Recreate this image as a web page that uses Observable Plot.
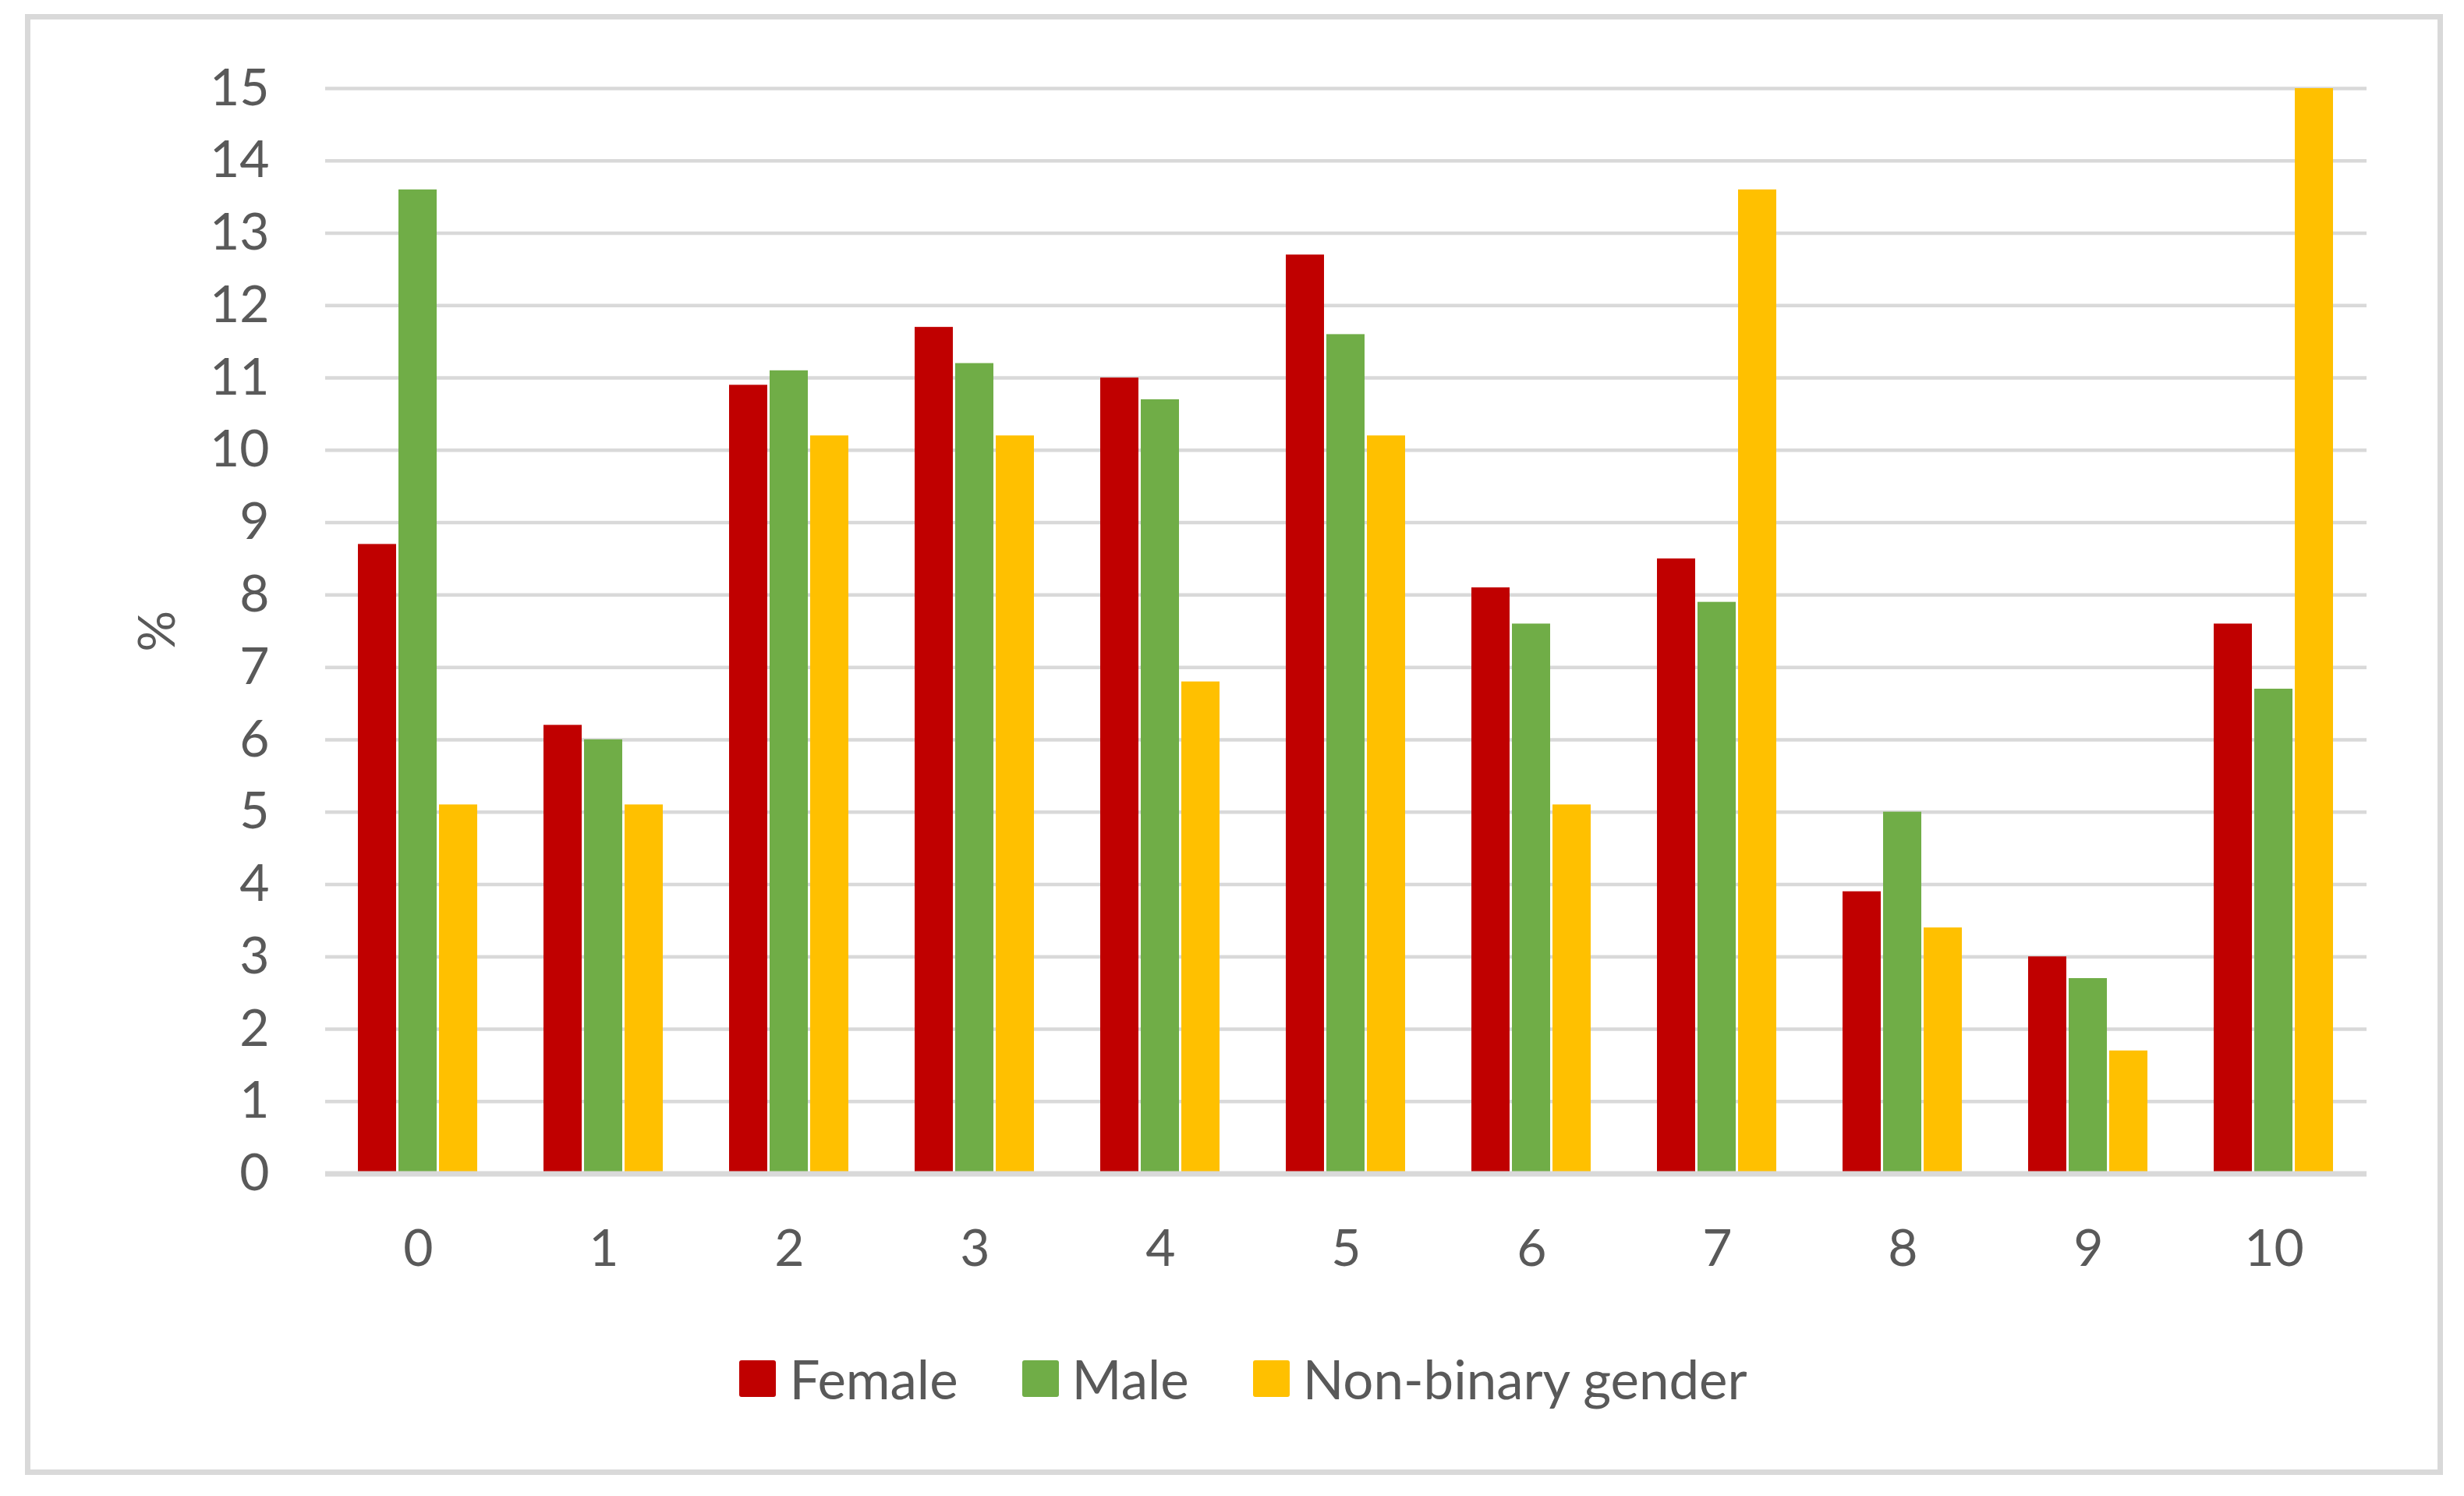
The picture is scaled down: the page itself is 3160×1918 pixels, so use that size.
<!DOCTYPE html>
<html>
<head>
<meta charset="utf-8">
<script src="https://cdn.jsdelivr.net/npm/d3@7"></script>
<script src="https://cdn.jsdelivr.net/npm/@observablehq/plot@0.6"></script>
<style>
  html, body { margin: 0; padding: 0; background: #fff; }
  body { width: 3160px; height: 1918px; position: relative; overflow: hidden; font-family: Lato, "Open Sans", sans-serif; }
  #frame { position: absolute; left: 32px; top: 18px; width: 3101px; height: 1873px; box-sizing: border-box; border: 7px solid #d9d9d9; }
  #chart { position: absolute; left: 0; top: 0; }
  #legend { position: absolute; left: 44px; width: 3101px; top: 1744px; display: flex; justify-content: center; align-items: center; color: #595959; font-size: 69px; line-height: 47px; }
  .item { display: flex; align-items: center; margin: 0 41px; }
  .sw { width: 47px; height: 47px; border-radius: 3px; margin-right: 17px; }
</style>
</head>
<body>
<div id="frame"></div>
<div id="chart"></div>
<div id="legend"></div>
<script>
const categories = ["0", "1", "2", "3", "4", "5", "6", "7", "8", "9", "10"];
const female    = [8.7, 6.2, 10.9, 11.7, 11.0, 12.7, 8.1, 8.5, 3.9, 3.0, 7.6];
const male      = [13.6, 6.0, 11.1, 11.2, 10.7, 11.6, 7.6, 7.9, 5.0, 2.7, 6.7];
const nonbinary = [5.1, 5.1, 10.2, 10.2, 6.8, 10.2, 5.1, 13.6, 3.4, 1.7, 15.0];
const genders = ["Female", "Male", "Non-binary gender"];
const colors = ["#C00000", "#70AD47", "#FFC000"];
const yTicks = [0, 1, 2, 3, 4, 5, 6, 7, 8, 9, 10, 11, 12, 13, 14, 15];

const series = [female, male, nonbinary];
const data = categories.flatMap((c, i) =>
  genders.map((g, j) => ({category: c, gender: g, value: series[j][i]}))
);

const chart = Plot.plot({
  width: 3160,
  height: 1700,
  marginLeft: 412,
  marginRight: 121,
  marginTop: 113,
  marginBottom: 195.5,
  style: {fontFamily: "Lato, 'Open Sans', sans-serif", fontSize: "66px", color: "#595959", background: "transparent"},
  fx: {domain: categories, padding: 0},
  x: {domain: genders, paddingInner: 0.0566, paddingOuter: 0.781, axis: null},
  y: {domain: [0, 15]},
  color: {domain: genders, range: colors},
  marks: [
    Plot.ruleY(yTicks, {stroke: "#d9d9d9", strokeWidth: 4.5}),
    Plot.barY(data, {fx: "category", x: "gender", y: "value", fill: "gender"}),
    Plot.ruleY([0], {stroke: "#d9d9d9", strokeWidth: 7}),
    Plot.axisY({ticks: yTicks, tickSize: 0, tickPadding: 72, tickFormat: d3.format("d"),
      label: "%", labelAnchor: "center", labelOffset: 240, labelArrow: "none"}),
    Plot.axisFx({anchor: "bottom", tickSize: 0, tickPadding: 71, label: null})
  ]
});
document.getElementById("chart").appendChild(chart);

const legend = document.getElementById("legend");
genders.forEach((g, j) => {
  const item = document.createElement("div");
  item.className = "item";
  const sw = document.createElement("div");
  sw.className = "sw";
  sw.style.background = colors[j];
  const t = document.createElement("span");
  t.textContent = g;
  item.appendChild(sw);
  item.appendChild(t);
  legend.appendChild(item);
});
</script>
</body>
</html>
